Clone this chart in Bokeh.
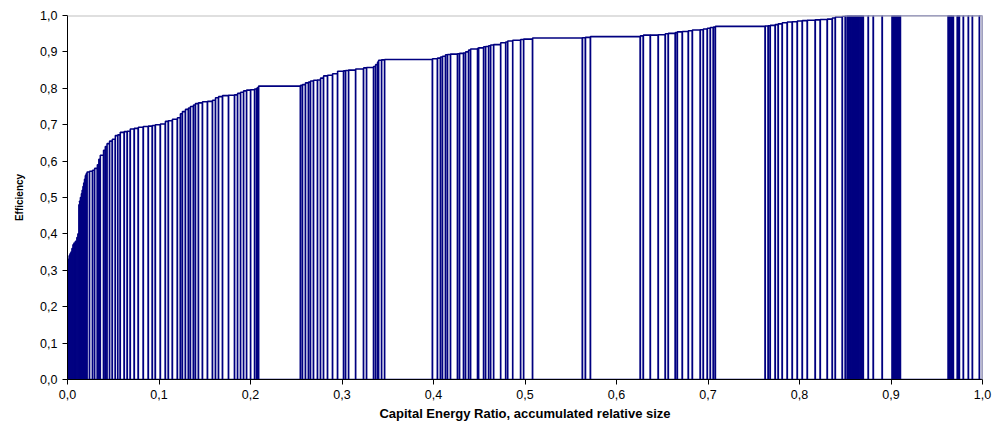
import numpy as np
from bokeh.plotting import figure
from bokeh.models import ColumnDataSource, Range1d, FixedTicker, CustomJSTickFormatter, Span
from bokeh.embed import file_html
from bokeh.resources import INLINE

# ---- data: relative size (width) and efficiency (height) of each unit, sorted by efficiency ----
sizes = [
    # low-efficiency small units
    0.0005, 0.0005, 0.0008, 0.0009, 0.0011, 0.0011, 0.0011, 0.0011, 0.0016, 0.0016,
    0.0011, 0.0011, 0.0009, 0.0008, 0.0011, 0.0008, 0.0009, 0.0008, 0.0009, 0.0009,
    0.0009, 0.0010, 0.0027, 0.0033,
    # 0.575 - 0.806
    0.0023, 0.0030, 0.0016, 0.0016, 0.0036, 0.0019, 0.0019, 0.0028, 0.0030, 0.0033,
    0.0027, 0.0027, 0.0044, 0.0033, 0.0033, 0.0044, 0.0044, 0.0055, 0.0055, 0.0044,
    0.0033, 0.0055, 0.0055, 0.0033, 0.0044, 0.0055, 0.0033, 0.0022, 0.0033, 0.0033,
    0.0022, 0.0033, 0.0022, 0.0033, 0.0044, 0.0055, 0.0055, 0.0033, 0.0033, 0.0044,
    0.0066, 0.0066, 0.0033, 0.0033, 0.0033, 0.0033, 0.0044, 0.0044, 0.0022, 0.0011,
    0.0011, 0.0459,
    # 0.808 - 0.879
    0.0022, 0.0033, 0.0033, 0.0022, 0.0033, 0.0044, 0.0033, 0.0033, 0.0044, 0.0055,
    0.0055, 0.0066, 0.0022, 0.0033, 0.0077, 0.0087, 0.0033, 0.0077, 0.0022, 0.0022,
    0.0011, 0.0033, 0.0033, 0.0525,
    # 0.881 - 0.998
    0.0055, 0.0033, 0.0022, 0.0033, 0.0022, 0.0033, 0.0077, 0.0022, 0.0044, 0.0022,
    0.0033, 0.0022, 0.0077, 0.0011, 0.0055, 0.0022, 0.0033, 0.0022, 0.0033, 0.0077,
    0.0055, 0.0022, 0.0055, 0.0087, 0.0033, 0.0098, 0.0547, 0.0033, 0.0055, 0.0547,
    0.0033, 0.0077, 0.0087, 0.0077, 0.0033, 0.0077, 0.0022, 0.0055, 0.0066, 0.0044,
    0.0087, 0.0033, 0.0044, 0.0033, 0.0033, 0.0022, 0.0547, 0.0033, 0.0022, 0.0055,
    0.0033, 0.0044, 0.0055, 0.0055, 0.0055, 0.0055, 0.0055, 0.0087, 0.0055, 0.0077,
    0.0055, 0.0033, 0.0077, 0.0033,
    # fully efficient units
    0.0022, 0.00125, 0.00125, 0.00125, 0.00125, 0.00125, 0.00125, 0.00125, 0.00125, 0.00125,
    0.00125, 0.00125, 0.00125, 0.00125, 0.00125, 0.0055, 0.0055, 0.0098, 0.0109, 0.0015,
    0.0015, 0.0015, 0.0015, 0.0015, 0.0015, 0.0525, 0.0014, 0.0014, 0.0014, 0.0014,
    0.0044, 0.0011, 0.0011, 0.0044, 0.0055, 0.0044, 0.0077, 0.0033,
]

efficiency = [
    0.300, 0.320, 0.330, 0.340, 0.345, 0.350, 0.360, 0.370, 0.375, 0.380,
    0.390, 0.400, 0.480, 0.490, 0.500, 0.510, 0.520, 0.530, 0.540, 0.550,
    0.560, 0.565, 0.570, 0.572,
    0.575, 0.580, 0.590, 0.605, 0.616, 0.630, 0.640, 0.648, 0.655, 0.660,
    0.670, 0.672, 0.679, 0.681, 0.682, 0.688, 0.690, 0.693, 0.695, 0.696,
    0.698, 0.700, 0.702, 0.709, 0.711, 0.715, 0.719, 0.730, 0.736, 0.742,
    0.746, 0.750, 0.754, 0.758, 0.760, 0.763, 0.764, 0.767, 0.774, 0.777,
    0.780, 0.781, 0.782, 0.786, 0.789, 0.793, 0.795, 0.796, 0.798, 0.800,
    0.802, 0.806,
    0.808, 0.810, 0.815, 0.817, 0.820, 0.822, 0.823, 0.828, 0.834, 0.836,
    0.840, 0.847, 0.848, 0.849, 0.850, 0.853, 0.856, 0.857, 0.860, 0.865,
    0.872, 0.877, 0.878, 0.879,
    0.881, 0.883, 0.886, 0.888, 0.892, 0.893, 0.894, 0.895, 0.896, 0.897,
    0.900, 0.905, 0.908, 0.910, 0.911, 0.914, 0.915, 0.917, 0.919, 0.920,
    0.925, 0.927, 0.930, 0.932, 0.934, 0.935, 0.938, 0.939, 0.940, 0.942,
    0.944, 0.946, 0.946, 0.947, 0.950, 0.951, 0.953, 0.955, 0.956, 0.958,
    0.960, 0.961, 0.963, 0.965, 0.967, 0.968, 0.970, 0.971, 0.972, 0.973,
    0.975, 0.977, 0.980, 0.982, 0.983, 0.985, 0.986, 0.987, 0.988, 0.989,
    0.990, 0.993, 0.996, 0.998,
    1.0, 1.0, 1.0, 1.0, 1.0, 1.0, 1.0, 1.0, 1.0, 1.0,
    1.0, 1.0, 1.0, 1.0, 1.0, 1.0, 1.0, 1.0, 1.0, 1.0,
    1.0, 1.0, 1.0, 1.0, 1.0, 1.0, 1.0, 1.0, 1.0, 1.0,
    1.0, 1.0, 1.0, 1.0, 1.0, 1.0, 1.0, 1.0,
]

tick_values = [0.0, 0.1, 0.2, 0.3, 0.4, 0.5, 0.6, 0.7, 0.8, 0.9, 1.0]
tick_labels = ["0,0", "0,1", "0,2", "0,3", "0,4", "0,5", "0,6", "0,7", "0,8", "0,9", "1,0"]

x_title = "Capital Energy Ratio, accumulated relative size"
y_title = "Efficiency"

assert len(sizes) == len(efficiency)

# accumulated relative size
w = np.array(sizes, dtype=float)
w = w / w.sum()
right = np.cumsum(w)
left = right - w

src = ColumnDataSource(dict(left=left, right=right, top=np.array(efficiency), bottom=np.zeros(len(w))))

p = figure(width=993, height=423, x_range=Range1d(0, 1), y_range=Range1d(0, 1),
           output_backend="svg", toolbar_location=None,
           min_border_left=67, min_border_right=11, min_border_top=15, min_border_bottom=43)
p.background_fill_color = "white"
p.border_fill_color = "white"
p.outline_line_color = None
p.xgrid.visible = False
p.ygrid.visible = False

p.quad(left="left", right="right", bottom="bottom", top="top", source=src,
       fill_color="white", line_color="#000080", line_width=1.6)

# gray frame on top and right
p.add_layout(Span(location=1, dimension="width", line_color="#c0c0c0", line_width=2))
p.add_layout(Span(location=1, dimension="height", line_color="#c0c0c0", line_width=2))

fmt_code = "return labels[Math.round(tick * 10)];"
for ax in (p.xaxis[0], p.yaxis[0]):
    ax.ticker = FixedTicker(ticks=tick_values)
    ax.formatter = CustomJSTickFormatter(args=dict(labels=tick_labels), code=fmt_code)
    ax.axis_line_color = "black"
    ax.axis_line_width = 1
    ax.major_tick_line_color = "black"
    ax.major_tick_out = 5
    ax.major_tick_in = 0
    ax.minor_tick_line_color = None
    ax.major_label_text_font = "Liberation Sans"
    ax.major_label_text_font_size = "12.5px"
    ax.major_label_text_color = "black"
    ax.major_label_standoff = 5
    ax.axis_label_text_font = "Liberation Sans"
    ax.axis_label_text_font_style = "bold"
    ax.axis_label_text_color = "black"

p.xaxis.axis_label = x_title
p.xaxis.axis_label_text_font_size = "13px"
p.xaxis.axis_label_standoff = 4
p.yaxis.axis_label = y_title
p.yaxis.axis_label_text_font_size = "10px"
p.yaxis.axis_label_standoff = 12

open("out.html", "w").write(file_html(p, INLINE))
